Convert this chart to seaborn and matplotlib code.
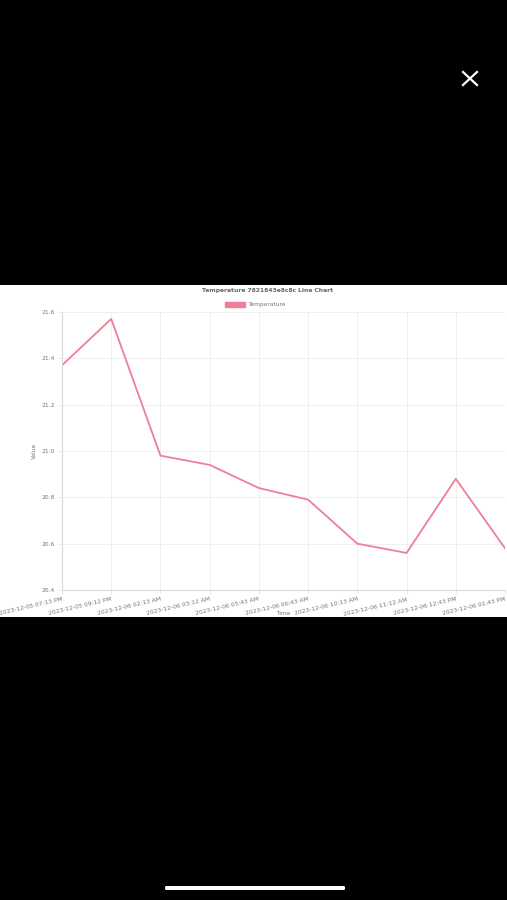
import matplotlib
matplotlib.use("Agg")
import matplotlib.pyplot as plt
from matplotlib.patches import Rectangle, FancyBboxPatch
from matplotlib.lines import Line2D
import seaborn as sns
import pandas as pd

# data
times = [
    "2023-12-05 07:13 PM", "2023-12-05 09:12 PM", "2023-12-06 02:13 AM",
    "2023-12-06 03:12 AM", "2023-12-06 05:43 AM", "2023-12-06 06:43 AM",
    "2023-12-06 10:13 AM", "2023-12-06 11:12 AM", "2023-12-06 12:43 PM",
    "2023-12-06 01:43 PM",
]
temperature = [21.37, 21.57, 20.98, 20.94, 20.84, 20.79, 20.60, 20.56, 20.88, 20.58]
y_ticks = [20.4, 20.6, 20.8, 21.0, 21.2, 21.4, 21.6]

df = pd.DataFrame({"Time": times, "Value": temperature})

W, H = 507, 900
fig = plt.figure(figsize=(W / 100, H / 100), dpi=100, facecolor="black")

# white chart panel of the screenshot (drawn behind the axes)
fig.patches.append(Rectangle((0, 1 - 617 / H), 1, (617 - 285) / H,
                             transform=fig.transFigure, facecolor="white",
                             edgecolor="none", zorder=-5))

ax = fig.add_axes([62 / W, 1 - 590 / H, (505 - 62) / W, (590 - 312) / H])
ax.set_facecolor("white")

line_color = "#ef7f96"
sns.lineplot(data=df, x="Time", y="Value", ax=ax, color=line_color,
             linewidth=1.3, sort=False)

ax.set_xlim(0, len(times) - 1)
ax.set_ylim(20.4, 21.6)
ax.set_yticks(y_ticks)
ax.set_yticklabels([f"{v:.1f}" for v in y_ticks])
ax.set_xticks(range(len(times)))
ax.set_xticklabels(times, rotation=13, ha="right", rotation_mode="anchor")

ax.grid(True, color="#ececec", linewidth=0.6)
ax.set_axisbelow(True)
for side in ["top", "right"]:
    ax.spines[side].set_visible(False)
for side in ["left", "bottom"]:
    ax.spines[side].set_color("#d8d8d8")
    ax.spines[side].set_linewidth(0.8)
ax.tick_params(axis="both", length=3, color="#ececec", labelsize=4.3,
               labelcolor="#777777", pad=2)

ax.set_xlabel("Time", fontsize=4.2, color="#777777", labelpad=-4)
ax.set_ylabel("Value", fontsize=4.2, color="#777777", labelpad=3)

# title and legend
fig.text(268 / W, 1 - 291 / H, "Temperature 7821843e8c8c Line Chart",
         ha="center", va="center", fontsize=4.3, fontweight="bold", color="#666666")
fig.patches.append(Rectangle((225 / W, 1 - 307 / H), 20 / W, 5 / H,
                             transform=fig.transFigure, facecolor=line_color,
                             edgecolor=line_color, zorder=2))
fig.text(248 / W, 1 - 304.5 / H, "Temperature", ha="left", va="center",
         fontsize=4.2, color="#777777")

# phone overlay: close button and home indicator
for (x0, y0, x1, y1) in [(463, 72, 477, 85), (463, 85, 477, 72)]:
    fig.lines.append(Line2D([x0 / W, x1 / W], [1 - y0 / H, 1 - y1 / H],
                            transform=fig.transFigure, color="white", linewidth=1.6))
fig.patches.append(FancyBboxPatch((165 / W, 1 - 890 / H), 180 / W, 4 / H,
                                  boxstyle="round,pad=0,rounding_size=0.002",
                                  transform=fig.transFigure, facecolor="white",
                                  edgecolor="none"))

fig.savefig("out.png", dpi=100, facecolor="black")
